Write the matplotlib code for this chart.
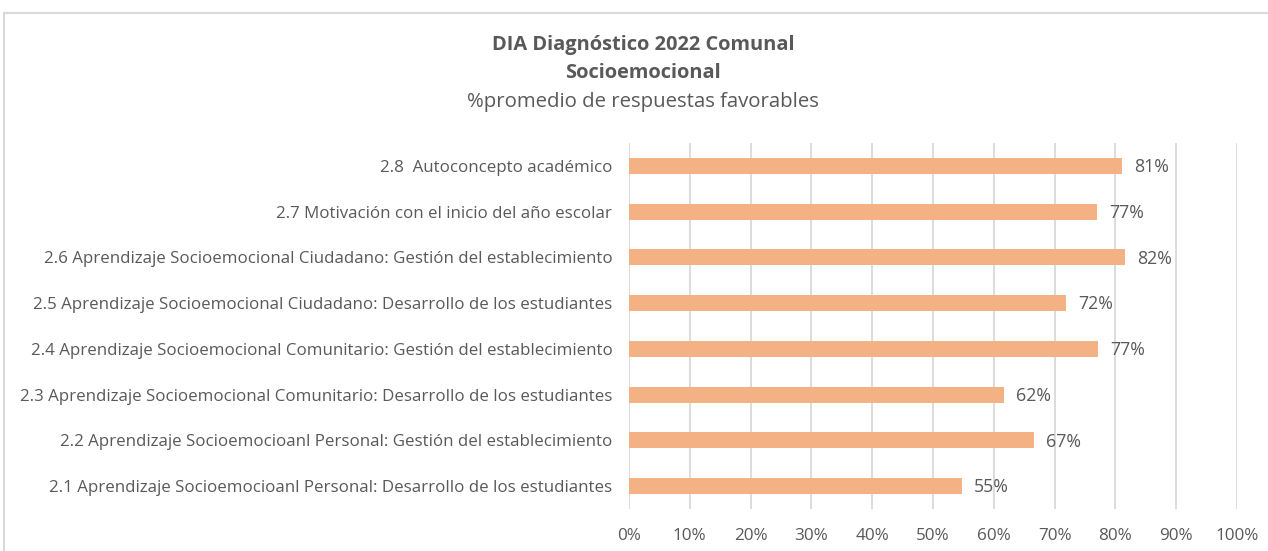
import matplotlib.pyplot as plt
from matplotlib.patches import Rectangle

categories = [
    "2.1 Aprendizaje Socioemocioanl Personal: Desarrollo de los estudiantes",
    "2.2 Aprendizaje Socioemocioanl Personal: Gestión del establecimiento",
    "2.3 Aprendizaje Socioemocional Comunitario: Desarrollo de los estudiantes",
    "2.4 Aprendizaje Socioemocional Comunitario: Gestión del establecimiento",
    "2.5 Aprendizaje Socioemocional Ciudadano: Desarrollo de los estudiantes",
    "2.6 Aprendizaje Socioemocional Ciudadano: Gestión del establecimiento",
    "2.7 Motivación con el inicio del año escolar",
    "2.8  Autoconcepto académico",
]
values = [0.548, 0.666, 0.617, 0.771, 0.719, 0.816, 0.770, 0.811]
xticks = [i / 10 for i in range(11)]

plt.rcParams['font.family'] = ['Open Sans', 'DejaVu Sans']
txt = "#595959"
bar_color = "#F4B183"
grid_color = "#D9D9D9"

W, H = 1268, 551
fig = plt.figure(figsize=(W / 100, H / 100), dpi=100)
ax = fig.add_axes([629 / W, 1 - 509 / H, 608 / W, 366 / H])

fig.patches.append(Rectangle((3.5 / W, -0.1), 1.2, 1 - 12.5 / H + 0.1,
                             transform=fig.transFigure, fill=False,
                             edgecolor="#D9D9D9", linewidth=1.5))

y = range(len(categories))
ax.barh(y, values, height=0.35, color=bar_color, zorder=3)
for yi, v in zip(y, values):
    ax.text(v + 0.02, yi - 0.03, f"{round(v * 100)}%", va="center", ha="left",
            fontsize=12.8, color=txt)

ax.set_xlim(0, 1)
ax.set_ylim(-0.5, len(categories) - 0.5)
ax.set_xticks(xticks)
ax.set_xticklabels([f"{round(t * 100)}%" for t in xticks])
ax.set_yticks(list(y))
ax.set_yticklabels(categories)
ax.tick_params(axis="both", length=0, labelcolor=txt)
ax.tick_params(axis="x", pad=14, labelsize=12.3)
ax.tick_params(axis="y", pad=12, labelsize=12.2)
ax.grid(axis="x", color=grid_color, linewidth=1.3, zorder=0)
for s in ax.spines.values():
    s.set_visible(False)

fig.text(643 / W, 1 - 45 / H, "DIA Diagnóstico 2022 Comunal", ha="center", va="center",
         fontsize=14.4, fontweight="bold", color=txt)
fig.text(643 / W, 1 - 73 / H, "Socioemocional", ha="center", va="center",
         fontsize=14.4, fontweight="bold", color=txt)
fig.text(643 / W, 1 - 102 / H, "%promedio de respuestas favorables", ha="center", va="center",
         fontsize=14.7, color=txt)

fig.savefig("out.png", dpi=100)
